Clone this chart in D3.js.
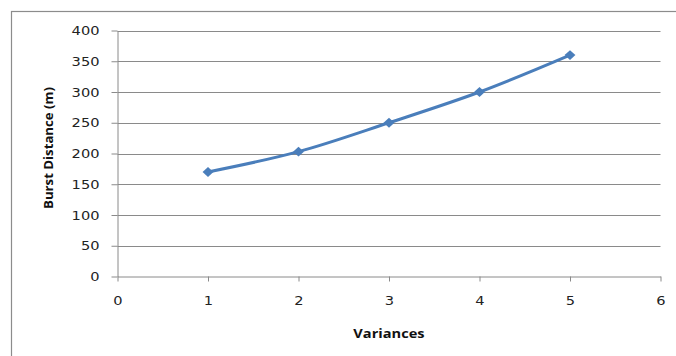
<!DOCTYPE html>
<html>
<head>
<meta charset="utf-8">
<script src="https://cdn.jsdelivr.net/npm/d3@7"></script>
<style>
  html, body { margin: 0; padding: 0; background: #fff; }
  svg { display: block; }
</style>
</head>
<body>
<svg id="chart" width="676" height="356"></svg>
<script>
// Burst distance per variance level
const variances = [1, 2, 3, 4, 5];
const burstDistance = [170, 203, 250, 300, 360];
const xTicks = [0, 1, 2, 3, 4, 5, 6];
const yTicks = [0, 50, 100, 150, 200, 250, 300, 350, 400];

const svg = d3.select("#chart");
const W = 676, H = 356;
const plot = { left: 117.5, right: 660.5, top: 30.5, bottom: 276.5 };
const stretch = 1.17; // text is drawn slightly wide

// Outer chart frame (runs past the right and bottom edges)
svg.append("rect")
  .attr("x", 11.5).attr("y", 11.5)
  .attr("width", W + 10).attr("height", H + 10)
  .attr("fill", "#fff").attr("stroke", "#8c8c8c").attr("stroke-width", 1.2);

const x = d3.scaleLinear().domain([0, 6]).range([plot.left, plot.right]);
const y = d3.scaleLinear().domain([0, 400]).range([plot.bottom, plot.top]);

const font = "'DejaVu Sans', Verdana, sans-serif";

// Horizontal gridlines
svg.append("g")
  .selectAll("line")
  .data(yTicks.filter(d => d > 0))
  .join("line")
  .attr("x1", plot.left).attr("x2", plot.right)
  .attr("y1", d => Math.round(y(d)) + 0.5).attr("y2", d => Math.round(y(d)) + 0.5)
  .attr("stroke", "#8a8a8a").attr("stroke-width", 1);

// Y axis
const yAxis = svg.append("g")
  .attr("transform", `translate(${plot.left},0)`)
  .call(d3.axisLeft(y).tickValues(yTicks).tickFormat(d3.format("d"))
    .tickSize(6).tickPadding(12).tickSizeOuter(0));
yAxis.select(".domain").attr("stroke", "#8a8a8a");
yAxis.selectAll(".tick line").attr("stroke", "#8a8a8a");
yAxis.selectAll(".tick text")
  .attr("x", 0)
  .attr("transform", `translate(-18,0) scale(${stretch},1)`)
  .attr("font-family", font).attr("font-size", 12.5).attr("fill", "#222");

// X axis
const xAxis = svg.append("g")
  .attr("transform", `translate(0,${plot.bottom})`)
  .call(d3.axisBottom(x).tickValues(xTicks).tickFormat(d3.format("d"))
    .tickSize(5).tickPadding(15).tickSizeOuter(0));
xAxis.select(".domain").attr("stroke", "#8a8a8a");
xAxis.selectAll(".tick line").attr("stroke", "#8a8a8a");
xAxis.selectAll(".tick text")
  .attr("transform", `scale(${stretch},1)`)
  .attr("font-family", font).attr("font-size", 12.5).attr("fill", "#222");

// Axis titles
svg.append("text")
  .attr("transform", `translate(389,338) scale(${stretch},1)`)
  .attr("text-anchor", "middle")
  .attr("font-family", "'Open Sans', sans-serif").attr("font-weight", "bold")
  .attr("font-size", 12.5).attr("fill", "#111")
  .text("Variances");

svg.append("text")
  .attr("transform", "translate(53,148) rotate(-90)")
  .attr("text-anchor", "middle")
  .attr("font-family", "'Open Sans', sans-serif").attr("font-weight", "bold")
  .attr("font-size", 13.2).attr("fill", "#111")
  .text("Burst Distance (m)");

// Smoothed series line
const pts = variances.map((v, i) => [v, burstDistance[i]]);
const line = d3.line()
  .x(d => x(d[0])).y(d => y(d[1]))
  .curve(d3.curveCatmullRom.alpha(0.5));

svg.append("path")
  .datum(pts)
  .attr("d", line)
  .attr("fill", "none")
  .attr("stroke", "#4a7ebb")
  .attr("stroke-width", 3)
  .attr("stroke-linejoin", "round");

// Diamond markers
const diamond = d3.symbol().type(d3.symbolDiamond2).size(62);
svg.append("g")
  .selectAll("path")
  .data(pts)
  .join("path")
  .attr("transform", d => `translate(${x(d[0])},${y(d[1])}) scale(1.1,1)`)
  .attr("d", diamond)
  .attr("fill", "#4a7ebb");
</script>
</body>
</html>
